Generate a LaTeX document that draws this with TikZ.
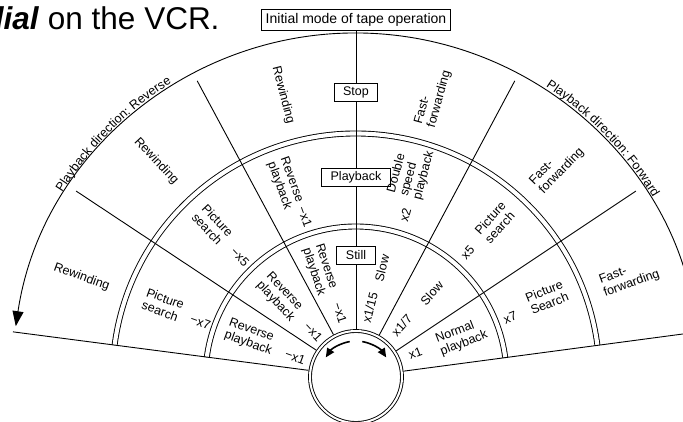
\documentclass[tikz,border=0pt]{standalone}
\usepackage{fontspec}
\setmainfont{Liberation Sans}
\usetikzlibrary{arrows.meta, decorations.text, calc}

\begin{document}
\begin{tikzpicture}[
  x=1pt, y=1pt,
  line width=0.9pt,
  ring/.style={line width=0.9pt, double, double distance=4.1pt},
  spoke/.style={line width=0.9pt},
  dirarrow/.style={line width=0.9pt, {Triangle[length=15pt,width=11pt]}-{Triangle[length=15pt,width=11pt]}},
  turn/.style={line width=1.6pt, -{Triangle[length=9pt,width=8pt]}},
  modebox/.style={
    draw,
    line width=0.9pt,
    fill=white,
    rectangle,
    minimum height=18pt,
    inner xsep=9pt,
    inner ysep=2pt,
    font=\fontsize{12.5}{14}\selectfont
  },
  topbox/.style={modebox, inner xsep=4pt, minimum height=21pt, font=\fontsize{14}{16}\selectfont},
  lbl/.style={align=left, inner sep=1pt, font=\fontsize{12.5}{13.5}\selectfont},
  along/.style={decorate, decoration={text along path, text align=center, raise=3pt,
    text={|\fontsize{12.5}{14}\selectfont|#1}}}
]

  % page frame
  \path[fill=white, use as bounding box] (-356,-44) rectangle (327,377);

  % title, cut at the left edge
  \node[anchor=base east, inner sep=0pt, font=\fontsize{31.5}{34}\selectfont] (title) at (-136,347)
    {\textbf{\textit{dial}} on the VCR.};

  % ring borders
  \draw[ring] (172.5:150.5) arc[start angle=172.5, end angle=7.5, radius=150.5];
  \draw[ring] (172.5:243.5) arc[start angle=172.5, end angle=7.5, radius=243.5];

  % the dial itself
  \node[circle, draw, double, double distance=2pt, fill=white, minimum size=92pt, outer sep=2pt] (dial) at (0,0) {};

  % sector borders
  \draw[spoke] (dial.172.5) -- (172.5:346);
  \draw[spoke] (dial.146.4) -- (146.4:336);
  \draw[spoke] (dial.118.2) -- (118.2:336);
  \draw[spoke] (dial.61.8) -- (61.8:336);
  \draw[spoke] (dial.33.6) -- (33.6:336);
  \draw[spoke] (dial.7.5) -- (7.5:346);

  % playback direction
  \draw[dirarrow] (171.5:344) arc[start angle=171.5, end angle=8.5, radius=344];
  \path[along={Playback direction: Reverse}] (161:344) arc[start angle=161, end angle=109, radius=344];
  \path[along={Playback direction: Forward}] (70:344) arc[start angle=70, end angle=18, radius=344];

  % initial modes on the middle line
  \node[topbox] (initial) at (0,357) {Initial mode of tape operation};
  \node[modebox] (stop) at (0,285) {Stop};
  \node[modebox] (play) at (0,200) {Playback};
  \node[modebox] (still) at (0,121.5) {Still};
  \draw (initial) -- (stop) -- (play) -- (still) -- (dial);

  % turning arrows in the dial
  \draw[turn] (100:36) arc[start angle=100, end angle=147, radius=36];
  \draw[turn] (80:36) arc[start angle=80, end angle=33, radius=36];

  % outer ring
  \node[lbl, rotate=-20] (rew1) at (160:292) {Rewinding};
  \node[lbl, rotate=-47] (rew2) at (132.8:294) {Rewinding};
  \node[lbl, rotate=-75.5] (rew3) at (104.5:291) {Rewinding};
  \node[lbl, rotate=74.6] (ffw1) at (74.6:290) {Fast-\\forwarding};
  \node[lbl, rotate=46] (ffw2) at (46.3:291) {Fast-\\forwarding};
  \node[lbl, rotate=20] (ffw3) at (20:291) {Fast-\\forwarding};

  % middle ring
  \node[lbl, rotate=-20] (search7r) at (159.5:206) {Picture\\search};
  \node[lbl, rotate=-20] (times7r) at (160.6:165) {−x7};
  \node[lbl, rotate=-47] (search5r) at (133.3:209) {Picture\\search};
  \node[lbl, rotate=-47] (times5r) at (134:167) {−x5};
  \node[lbl, rotate=-70] (revplay) at (110:206) {Reverse\\playback};
  \node[lbl, rotate=-70] (times1r) at (107.7:168) {−x1};
  \node[lbl, rotate=75] (double) at (75:212) {Double\\speed\\playback};
  \node[lbl, rotate=75] (times2) at (73:169) {x2};
  \node[lbl, rotate=48] (search5) at (48:208) {Picture\\search};
  \node[lbl, rotate=48] (times5) at (48:167) {x5};
  \node[lbl, rotate=22] (search7) at (22.7:207) {Picture\\Search};
  \node[lbl, rotate=22] (times7) at (21:165) {x7};

  % inner ring
  \node[lbl, rotate=-20] (rev1) at (159.3:113) {Reverse\\playback};
  \node[lbl, rotate=-20] (rtimes1) at (162:64) {−x1};
  \node[lbl, rotate=-47] (rev2) at (133.5:110) {Reverse\\playback};
  \node[lbl, rotate=-47] (rtimes2) at (133.7:62) {−x1};
  \node[lbl, rotate=-72] (rev3) at (108.6:113) {Reverse\\playback};
  \node[lbl, rotate=-72] (rtimes3) at (104:66) {−x1};
  \node[lbl, rotate=76] (slow1) at (76.6:112) {Slow};
  \node[lbl, rotate=76] (times15) at (78.7:71) {x1/15};
  \node[lbl, rotate=48] (slow2) at (47.9:113) {Slow};
  \node[lbl, rotate=48] (times17) at (48.5:69) {x1/7};
  \node[lbl, rotate=21] (normal) at (20.7:113) {Normal\\playback};
  \node[lbl, rotate=21] (times1) at (22:64) {x1};

\end{tikzpicture}
\end{document}
